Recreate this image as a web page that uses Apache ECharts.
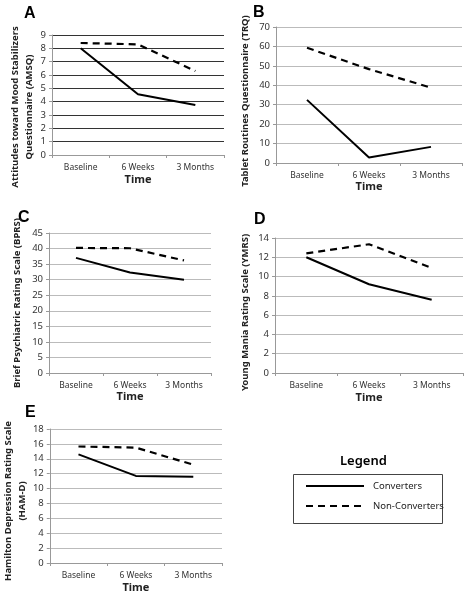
<!DOCTYPE html>
<html><head><meta charset="utf-8">
<script src="https://cdn.jsdelivr.net/npm/echarts@6/dist/echarts.min.js"></script>
<style>html,body{margin:0;padding:0;background:#fff}#c{width:472px;height:599px}</style>
</head><body><div id="c"></div>
<script>
const categories = ['Baseline', '6 Weeks', '3 Months'];
const seriesNames = ['Converters', 'Non-Converters'];
const amsqConverters = [8.0, 4.55, 3.75];
const amsqNonConverters = [8.4, 8.3, 6.3];
const trqConverters = [32.5, 2.8, 8.3];
const trqNonConverters = [59.3, 48.3, 38.8];
const bprsConverters = [37, 32.3, 30];
const bprsNonConverters = [40.2, 40.1, 36.2];
const ymrsConverters = [12, 9.2, 7.6];
const ymrsNonConverters = [12.4, 13.35, 10.9];
const hamdConverters = [14.6, 11.7, 11.6];
const hamdNonConverters = [15.65, 15.5, 13.2];

const panels = [
  {letter:'A', name:'Attitudes toward Mood Stabilizers\nQuestionnaire (AMSQ)', max:9, interval:1, conv:amsqConverters, non:amsqNonConverters,
   grid:{left:52, top:35, width:172, height:120}, gridColor:'#333', nameGap:16, shift:24, timeGap:19, lx:24, ly:6},
  {letter:'B', name:'Tablet Routines Questionnaire (TRQ)', max:70, interval:10, conv:trqConverters, non:trqNonConverters,
   grid:{left:276, top:27, width:186, height:136}, gridColor:'#bbb', nameGap:24, shift:12, timeGap:13, lx:253, ly:5},
  {letter:'C', name:'Brief Psychiatric Rating Scale (BPRS)', max:45, interval:5, conv:bprsConverters, non:bprsNonConverters,
   grid:{left:49, top:233, width:162, height:140}, gridColor:'#bbb', nameGap:25, shift:0, timeGap:13, lx:18, ly:210},
  {letter:'D', name:'Young Mania Rating Scale (YMRS)', max:14, interval:2, conv:ymrsConverters, non:ymrsNonConverters,
   grid:{left:275, top:238, width:188, height:135}, gridColor:'#bbb', nameGap:23, shift:14, timeGap:19, lx:254, ly:212},
  {letter:'E', name:'Hamilton Depression Rating Scale\n(HAM-D)', max:18, interval:2, conv:hamdConverters, non:hamdNonConverters,
   grid:{left:48, top:429, width:174, height:134}, gridColor:'#bbb', nameGap:14, shift:10, timeGap:19, lx:25, ly:405}
];

const FONT = 'Noto Sans';
const grid = [], xAxis = [], yAxis = [], series = [], graphic = [];
panels.forEach((p, i) => {
  grid.push(p.grid);
  xAxis.push({
    type:'category', gridIndex:i, data:categories, boundaryGap:true,
    name:'Time', nameLocation:'middle', nameGap:p.timeGap,
    nameTextStyle:{fontFamily:FONT, fontSize:11, fontWeight:'bold', color:'#222'},
    axisLine:{lineStyle:{color:'#999', width:1}},
    axisTick:{show:true, length:3, lineStyle:{color:'#999'}},
    axisLabel:{fontFamily:FONT, fontSize:8.5, color:'#333', margin:8}
  });
  yAxis.push({
    type:'value', gridIndex:i, min:0, max:p.max, interval:p.interval,
    name:p.name, nameLocation:'middle', nameGap:p.nameGap, nameRotate:90,
    nameTextStyle:{fontFamily:FONT, fontSize:9.5, fontWeight:'bold', color:'#222', lineHeight:14, padding:[0, p.shift, 0, 0]},
    axisLine:{show:true, lineStyle:{color:'#999', width:1}},
    axisTick:{show:true, length:3, lineStyle:{color:'#999'}},
    axisLabel:{fontFamily:FONT, fontSize:9.5, color:'#333', margin:6},
    splitLine:{show:true, lineStyle:{color:p.gridColor, width:1}}
  });
  series.push({
    name:seriesNames[0], type:'line', xAxisIndex:i, yAxisIndex:i, data:p.conv,
    symbol:'none', lineStyle:{color:'#000', width:2, type:'solid'}, itemStyle:{color:'#000'}, animation:false
  });
  series.push({
    name:seriesNames[1], type:'line', xAxisIndex:i, yAxisIndex:i, data:p.non,
    symbol:'none', lineStyle:{color:'#000', width:2.2, type:[7,5]}, itemStyle:{color:'#000'}, animation:false
  });
  graphic.push({type:'text', left:p.lx, top:p.ly, style:{text:p.letter, font:'bold 16px "Liberation Sans", Arial', fill:'#000'}});
});

graphic.push({type:'text', left:340, top:455, style:{text:'Legend', font:'600 13px "Noto Sans"', fill:'#000'}});
graphic.push({type:'rect', shape:{x:293.5, y:474.5, width:149, height:49}, style:{fill:'none', stroke:'#444', lineWidth:1}});

const chart = echarts.init(document.getElementById('c'), null, {renderer:'canvas'});
chart.setOption({
  backgroundColor:'#fff',
  animation:false,
  grid, xAxis, yAxis, series, graphic,
  legend:{
    data:seriesNames, orient:'vertical', left:300, top:476, itemWidth:58, itemHeight:12, itemGap:10,
    selectedMode:false,
    itemStyle:{opacity:0},
    textStyle:{fontFamily:FONT, fontSize:9.5, color:'#222', padding:[0,0,0,4]}
  }
});
</script></body></html>
